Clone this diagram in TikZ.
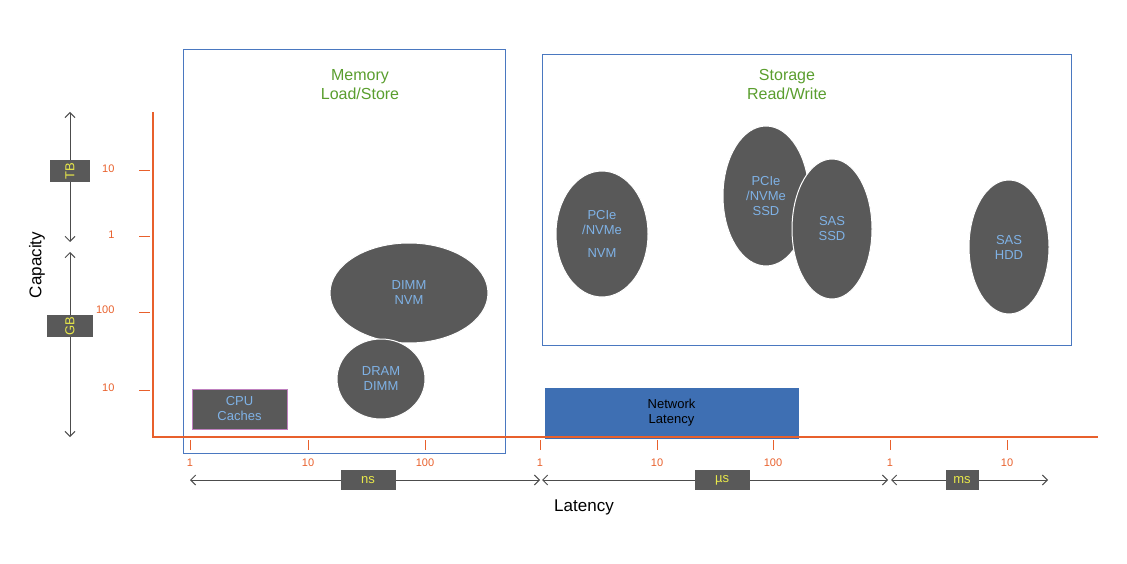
\documentclass[tikz,border=0pt]{standalone}
\usepackage{fontspec}
\setmainfont{Liberation Sans}
\begin{document}
\begin{tikzpicture}[x=1pt,y=-1pt,
  ax/.style={draw=axorange,line width=1.6pt},
  tk/.style={draw=axorange,line width=1pt},
  lab/.style={text=axorange,font=\fontsize{11}{13}\selectfont},
  blob/.style={ellipse,draw=white,line width=1pt,fill=blobgray,text=txtblue,align=center,inner sep=0pt,font=\fontsize{13}{15}\selectfont},
  grp/.style={draw=boxblue,line width=1pt},
  unit/.style={fill=blobgray,text=unityellow,font=\fontsize{13}{15}\selectfont,inner sep=0pt},
  arr/.style={draw=black!70,line width=1pt,<->,>={Straight Barb[length=5pt,width=10pt]}},
  ttl/.style={text=titlegreen,align=center,font=\fontsize{16}{19}\selectfont}]
\usetikzlibrary{shapes.geometric,arrows.meta}
\definecolor{axorange}{HTML}{E8602C}
\definecolor{blobgray}{HTML}{595959}
\definecolor{txtblue}{HTML}{7FB2E6}
\definecolor{boxblue}{HTML}{4A78C0}
\definecolor{unityellow}{HTML}{E8E84A}
\definecolor{titlegreen}{HTML}{5A9E2E}
\definecolor{netblue}{HTML}{3E6FB3}
\useasboundingbox (0,0) rectangle (1127,564);
% group boxes
\draw[grp] (183,50) rectangle (505,453);
\draw[grp] (542,55) rectangle (1071,345);
\node[ttl] (memt) at (360,85) {Memory\\Load/Store};
\node[ttl] (stot) at (787,84) {Storage\\Read/Write};
% network latency
\node[draw=netblue,fill=netblue,minimum width=253pt,minimum height=50pt,inner sep=0pt,align=center,font=\fontsize{13}{15}\selectfont] (net) at (671.5,413) {Network\\Latency};
% axes
\draw[ax] (153,112) -- (153,437) -- (1098,437);
\foreach \y/\t in {171/10,237/1,312/100,390/10}{
  \draw[tk] (139,\y) -- (150,\y);
  \node[lab,anchor=east] at (118,\y-2) {\t};}
\foreach \x/\t in {190/1,308/10,425/100,540/1,657/10,773/100,890/1,1007/10}{
  \draw[tk] (\x,440) -- (\x,450);
  \node[lab] at (\x,463) {\t};}
% cpu caches
\node[draw=violet!50,line width=1pt,fill=blobgray,text=txtblue,minimum width=95pt,minimum height=40pt,inner sep=0pt,align=center,font=\fontsize{13}{15}\selectfont] (cpu) at (239.5,409) {CPU\\Caches};
% blobs
\node[blob,minimum width=158pt,minimum height=100pt] (dimm) at (409,293) {DIMM\\NVM};
\node[blob,minimum width=88pt,minimum height=80pt] (dram) at (381,379) {DRAM\\DIMM};
\node[blob,minimum width=92pt,minimum height=126pt] (nvm) at (602,234) {PCIe\\/NVMe\\[8pt]NVM};
\node[blob,minimum width=86pt,minimum height=140pt] (pssd) at (766,196) {PCIe\\/NVMe\\SSD};
\node[blob,minimum width=80pt,minimum height=140pt] (sssd) at (832,229) {SAS\\SSD};
\node[blob,minimum width=80pt,minimum height=134pt] (hdd) at (1009,247) {SAS\\HDD};
% capacity arrows
\coordinate (t1) at (70,112); \coordinate (t2) at (70,242);
\coordinate (g1) at (70,252); \coordinate (g2) at (70,437);
\draw[arr] (t1) -- (t2);
\draw[arr] (g1) -- (g2);
\node[unit,minimum width=22pt,minimum height=40pt,rotate=90] (tb) at (70,171) {TB};
\node[unit,minimum width=22pt,minimum height=46pt,rotate=90] (gb) at (70,326) {GB};
\node[rotate=90,font=\fontsize{17}{20}\selectfont] (cap) at (37,265) {Capacity};
% latency arrows
\coordinate (n1) at (190,480); \coordinate (n2) at (540,480);
\coordinate (u1) at (542,480); \coordinate (u2) at (888,480);
\coordinate (m1) at (891,480); \coordinate (m2) at (1048,480);
\draw[arr] (n1) -- (n2);
\draw[arr] (u1) -- (u2);
\draw[arr] (m1) -- (m2);
\node[unit,minimum width=55pt,minimum height=20pt] (ns) at (368,480) {ns};
\node[unit,minimum width=55pt,minimum height=20pt] (us) at (722,480) {µs};
\node[unit,minimum width=33pt,minimum height=20pt] (ms) at (962,480) {ms};
\node[font=\fontsize{17}{20}\selectfont] (lat) at (584,507) {Latency};
\end{tikzpicture}
\end{document}
